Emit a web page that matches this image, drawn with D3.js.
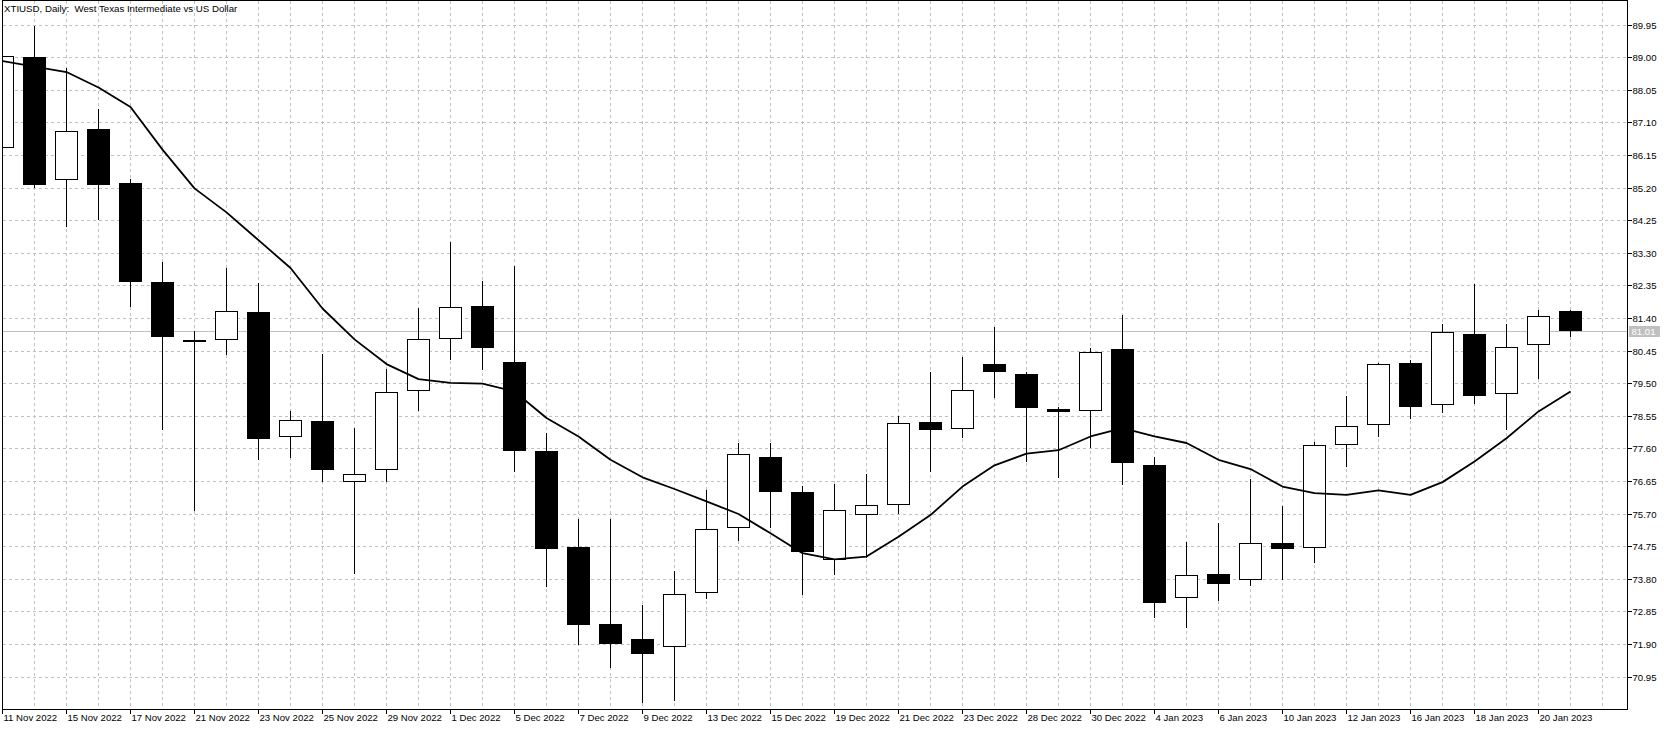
<!DOCTYPE html>
<html>
<head>
<meta charset="utf-8">
<script src="https://cdn.jsdelivr.net/npm/d3@7"></script>
<style>
  html, body { margin: 0; padding: 0; background: #fff; }
  svg { display: block; }
  .chart text { font-family: "Liberation Sans", Arial, sans-serif; fill: #000; }
</style>
</head>
<body>
<div class="chart"></div>
<script>
var title = 'XTIUSD, Daily:  West Texas Intermediate vs US Dollar';

var dates = [
  '11 Nov 2022', '14 Nov 2022', '15 Nov 2022', '16 Nov 2022', '17 Nov 2022', '18 Nov 2022',
  '21 Nov 2022', '22 Nov 2022', '23 Nov 2022', '24 Nov 2022', '25 Nov 2022', '28 Nov 2022',
  '29 Nov 2022', '30 Nov 2022', '1 Dec 2022', '2 Dec 2022', '5 Dec 2022', '6 Dec 2022',
  '7 Dec 2022', '8 Dec 2022', '9 Dec 2022', '12 Dec 2022', '13 Dec 2022', '14 Dec 2022',
  '15 Dec 2022', '16 Dec 2022', '19 Dec 2022', '20 Dec 2022', '21 Dec 2022', '22 Dec 2022',
  '23 Dec 2022', '27 Dec 2022', '28 Dec 2022', '29 Dec 2022', '30 Dec 2022', '3 Jan 2023',
  '4 Jan 2023', '5 Jan 2023', '6 Jan 2023', '9 Jan 2023', '10 Jan 2023', '11 Jan 2023',
  '12 Jan 2023', '13 Jan 2023', '16 Jan 2023', '17 Jan 2023', '18 Jan 2023', '19 Jan 2023',
  '20 Jan 2023', '23 Jan 2023'
];

var opens = [
  86.36, 89.00, 85.43, 86.92, 85.35, 82.46, 80.76, 80.76, 81.59, 77.94,
  78.41, 76.63, 76.98, 79.28, 80.79, 81.76, 80.13, 77.53, 74.73, 72.49,
  72.05, 71.81, 73.38, 75.28, 77.35, 76.34, 74.36, 75.66, 75.95, 78.37,
  78.17, 80.07, 79.77, 78.76, 78.69, 80.50, 77.13, 73.23, 73.94, 73.77,
  74.85, 74.70, 77.70, 78.28, 80.08, 78.86, 80.93, 79.18, 80.63, 81.62
];
var highs = [
  89.05, 89.90, 88.68, 87.49, 85.45, 83.02, 81.01, 82.87, 82.42, 78.68,
  80.34, 78.20, 79.93, 81.70, 83.62, 82.49, 82.93, 78.05, 75.55, 75.55,
  73.04, 74.03, 76.40, 77.77, 77.77, 76.50, 76.57, 76.86, 78.56, 79.84,
  80.28, 81.13, 79.84, 78.81, 80.52, 81.48, 77.36, 74.87, 75.42, 76.72,
  75.91, 77.79, 79.13, 80.08, 80.18, 81.23, 82.39, 81.23, 81.63, 81.65
];
var lows = [
  86.30, 85.21, 84.08, 84.28, 81.76, 78.16, 75.81, 80.35, 77.29, 77.34,
  76.65, 73.98, 76.65, 78.71, 80.22, 79.92, 76.95, 73.58, 71.90, 71.24,
  70.22, 70.27, 73.24, 74.92, 75.30, 73.35, 73.95, 74.45, 75.73, 76.95,
  77.93, 79.09, 77.25, 76.76, 77.65, 76.56, 72.70, 72.39, 73.18, 73.62,
  73.81, 74.28, 77.08, 77.95, 78.50, 78.67, 78.94, 78.16, 79.64, 80.88
];
var closes = [
  89.03, 85.27, 86.85, 85.29, 82.44, 80.85, 80.75, 81.61, 77.88, 78.44,
  76.97, 76.86, 79.25, 80.79, 81.72, 80.52, 77.54, 74.66, 72.47, 71.90,
  71.62, 73.36, 75.26, 77.44, 76.33, 74.57, 75.80, 75.95, 78.34, 78.14,
  79.31, 79.83, 78.78, 78.66, 80.42, 77.19, 73.11, 73.90, 73.66, 74.85,
  74.67, 77.70, 78.25, 80.05, 78.82, 80.99, 79.14, 80.55, 81.45, 81.01
];
var maValues = [
  88.89, 88.73, 88.57, 88.12, 87.55, 86.31, 85.18, 84.48, 83.67, 82.86,
  81.68, 80.78, 80.06, 79.62, 79.51, 79.49, 79.26, 78.49, 77.95, 77.27,
  76.76, 76.42, 76.06, 75.69, 75.13, 74.55, 74.37, 74.45, 75.03, 75.66,
  76.49, 77.11, 77.45, 77.55, 77.95, 78.19, 77.95, 77.76, 77.27, 77.00,
  76.49, 76.30, 76.25, 76.38, 76.25, 76.62, 77.22, 77.90, 78.68, 79.26
];

var priceTicks = [70.95, 71.90, 72.85, 73.80, 74.75, 75.70, 76.65, 77.60, 78.55, 79.50,
  80.45, 81.40, 82.35, 83.30, 84.25, 85.20, 86.15, 87.10, 88.05, 89.00, 89.95];
var lastPrice = 81.01;

var width = 1670, height = 730;
var plot = { left: 2.5, top: 0.5, right: 1627.5, bottom: 709.5 };
var barStep = 32, bodyW = 23;
var gridColor = '#c0c0c0';

var svg = d3.select('.chart')
  .append('svg')
    .attr('width', width)
    .attr('height', height);

// bar index -> pixel centre, grid continues past the last bar
var x = d3.scaleLinear()
  .domain([0, 1])
  .range([plot.left, plot.left + barStep]);

var y = d3.scaleLinear()
  .domain([70.0, 90.64])
  .range([709.3, 1]);

svg.append('clipPath').attr('id', 'plot-clip')
  .append('rect')
    .attr('x', plot.left + 0.5)
    .attr('y', plot.top + 0.5)
    .attr('width', plot.right - plot.left - 1)
    .attr('height', plot.bottom - plot.top - 1);

var inner = svg.append('g').attr('clip-path', 'url(#plot-clip)');

// dashed grid
var gridCols = d3.range(1, Math.ceil((plot.right - plot.left) / barStep));
inner.append('g')
  .selectAll('line')
  .data(gridCols)
  .enter().append('line')
    .attr('x1', d => x(d)).attr('x2', d => x(d))
    .attr('y1', plot.top).attr('y2', plot.bottom)
    .attr('stroke', gridColor)
    .attr('stroke-dasharray', '3,3')
    .attr('shape-rendering', 'crispEdges');

inner.append('g')
  .selectAll('line')
  .data(priceTicks)
  .enter().append('line')
    .attr('x1', plot.left).attr('x2', plot.right)
    .attr('y1', d => Math.round(y(d)) + 0.5).attr('y2', d => Math.round(y(d)) + 0.5)
    .attr('stroke', gridColor)
    .attr('stroke-dasharray', '3,3')
    .attr('shape-rendering', 'crispEdges');

// last price line
inner.append('line')
  .attr('x1', plot.left).attr('x2', plot.right)
  .attr('y1', Math.round(y(lastPrice)) + 0.5).attr('y2', Math.round(y(lastPrice)) + 0.5)
  .attr('stroke', gridColor)
  .attr('shape-rendering', 'crispEdges');

// candles
var candles = inner.append('g')
  .selectAll('g')
  .data(dates.map((d, i) => i))
  .enter().append('g')
    .attr('shape-rendering', 'crispEdges');

candles.append('line')
  .attr('x1', i => x(i)).attr('x2', i => x(i))
  .attr('y1', i => Math.round(y(highs[i])))
  .attr('y2', i => Math.round(y(lows[i])) + 1)
  .attr('stroke', '#000');

candles.append('rect')
  .each(function(i) {
    var up = closes[i] > opens[i];
    var top = Math.round(y(Math.max(opens[i], closes[i])));
    var bot = Math.round(y(Math.min(opens[i], closes[i])));
    var h = Math.max(bot - top, 1);
    var r = d3.select(this);
    if (up) {
      r.attr('x', x(i) - (bodyW - 1) / 2)
        .attr('y', top + 0.5)
        .attr('width', bodyW - 1)
        .attr('height', Math.max(h, 2) - 1)
        .attr('fill', '#fff')
        .attr('stroke', '#000');
    } else {
      r.attr('x', x(i) - bodyW / 2)
        .attr('y', top)
        .attr('width', bodyW)
        .attr('height', Math.max(h, 2))
        .attr('fill', '#000');
    }
  });

// moving average
var maLine = d3.line()
  .x((d, i) => x(i))
  .y(d => y(d));

inner.append('path')
  .datum(maValues)
  .attr('d', maLine)
  .attr('fill', 'none')
  .attr('stroke', '#000')
  .attr('stroke-width', 1.8)
  .attr('stroke-linejoin', 'round');

// frame
svg.append('rect')
  .attr('x', plot.left).attr('y', plot.top)
  .attr('width', plot.right - plot.left)
  .attr('height', plot.bottom - plot.top)
  .attr('fill', 'none')
  .attr('stroke', '#000')
  .attr('shape-rendering', 'crispEdges');

// axes
var xAxis = d3.axisBottom(x)
  .tickValues(d3.range(0, dates.length, 2))
  .tickFormat(i => dates[i])
  .tickSize(4)
  .tickSizeOuter(0)
  .offset(0);

var gx = svg.append('g')
  .attr('transform', 'translate(0,' + plot.bottom + ')')
  .call(xAxis);
gx.select('.domain').remove();
gx.selectAll('line').attr('shape-rendering', 'crispEdges');
gx.selectAll('text')
  .attr('x', 1)
  .attr('y', 5)
  .attr('dy', '0.71em')
  .style('text-anchor', 'start')
  .style('font-family', '"Liberation Sans", Arial, sans-serif')
  .style('font-size', '9.6px');

var yAxis = d3.axisRight(y)
  .tickValues(priceTicks)
  .tickFormat(d3.format('.2f'))
  .tickSize(4)
  .tickPadding(1)
  .tickSizeOuter(0)
  .offset(0);

var gy = svg.append('g')
  .attr('transform', 'translate(' + plot.right + ',0)')
  .call(yAxis);
gy.select('.domain').remove();
gy.selectAll('.tick')
  .attr('transform', d => 'translate(0,' + (Math.round(y(d)) + 0.5) + ')');
gy.selectAll('line').attr('shape-rendering', 'crispEdges');
gy.selectAll('text')
  .style('font-family', '"Liberation Sans", Arial, sans-serif')
  .style('font-size', '9.6px');

// last price tag
var tagY = Math.round(y(lastPrice)) + 0.5;
svg.append('rect')
  .attr('x', plot.right + 1)
  .attr('y', tagY - 5.5)
  .attr('width', 31)
  .attr('height', 11)
  .attr('fill', '#c0c0c0')
  .attr('shape-rendering', 'crispEdges');
svg.append('text')
  .attr('x', plot.right + 4)
  .attr('y', tagY)
  .attr('dy', '0.35em')
  .style('fill', '#fff')
  .style('font-size', '9.6px')
  .text(d3.format('.2f')(lastPrice));

svg.append('text')
  .attr('x', 4)
  .attr('y', 11.5)
  .style('white-space', 'pre')
  .style('font-size', '9.7px')
  .text(title);
</script>
</body>
</html>
